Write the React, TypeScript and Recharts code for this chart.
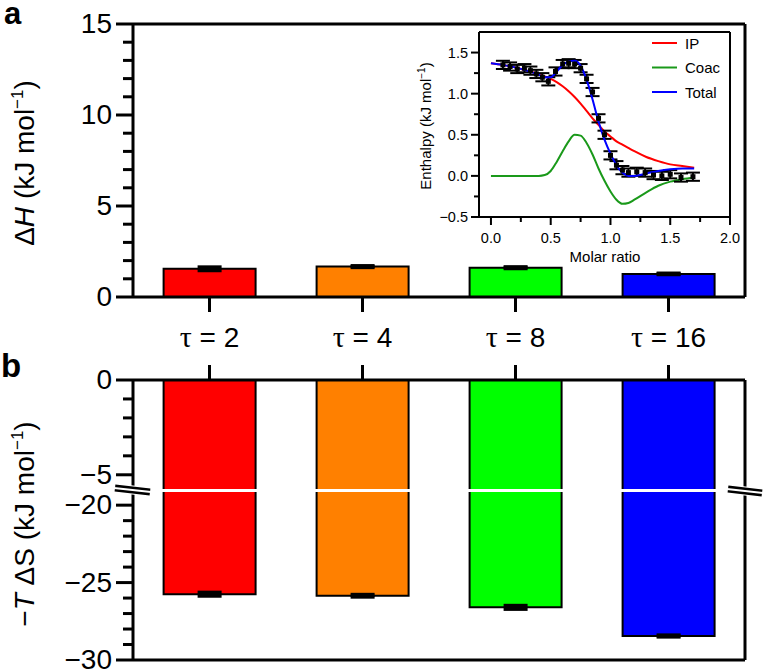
import React from "react";
import { BarChart, ComposedChart, Bar, Cell, XAxis, YAxis, ErrorBar, Line, Scatter } from "recharts";

// main panels
const tauLabels = ["2", "4", "8", "16"];
const enthalpy = [1.55, 1.67, 1.61, 1.27];
const enthalpyErr = [0.08, 0.03, 0.03, 0.02];
const entropy = [-25.75, -25.85, -26.6, -28.45];
const entropyErr = [0.1, 0.06, 0.1, 0.04];
const barColors = ["#ff0000", "#ff8000", "#00ff00", "#0000ff"];

const dhTicks = [0, 1, 2, 3, 4, 5, 6, 7, 8, 9, 10, 11, 12, 13, 14, 15];
const dsUpperTicks = [0, -1, -2, -3, -4, -5];
const dsLowerTicks = [-20, -21, -22, -23, -24, -25, -26, -27, -28, -29, -30];

// inset (ITC fit)
const molarGrid = [0, 0.1, 0.2, 0.3, 0.4, 0.45, 0.5, 0.55, 0.6, 0.65, 0.7, 0.75, 0.8, 0.85, 0.9, 0.95, 1.0, 1.05, 1.1, 1.15, 1.2, 1.3, 1.4, 1.5, 1.6, 1.7];
const ipFit = [1.37, 1.35, 1.32, 1.28, 1.24, 1.21, 1.18, 1.14, 1.09, 1.03, 0.96, 0.88, 0.79, 0.7, 0.62, 0.54, 0.48, 0.42, 0.38, 0.34, 0.3, 0.23, 0.18, 0.14, 0.12, 0.1];
const coacFit = [0, 0, 0, 0, 0, 0.01, 0.06, 0.17, 0.3, 0.42, 0.5, 0.49, 0.4, 0.26, 0.09, -0.06, -0.19, -0.29, -0.34, -0.33, -0.29, -0.2, -0.12, -0.07, -0.04, -0.02];
const totalFit = [1.37, 1.35, 1.32, 1.28, 1.23, 1.2, 1.2, 1.27, 1.35, 1.39, 1.4, 1.34, 1.17, 0.93, 0.66, 0.44, 0.27, 0.13, 0.04, 0.0, 0.0, 0.03, 0.06, 0.08, 0.09, 0.09];

const titrX = [0.1, 0.16, 0.22, 0.28, 0.33, 0.38, 0.43, 0.48, 0.54, 0.6, 0.65, 0.7, 0.75, 0.8, 0.85, 0.9, 0.95, 1.0, 1.05, 1.1, 1.15, 1.22, 1.29, 1.36, 1.43, 1.5, 1.59, 1.69];
const titrY = [1.35, 1.33, 1.3, 1.31, 1.28, 1.24, 1.2, 1.15, 1.27, 1.36, 1.37, 1.36, 1.31, 1.18, 1.02, 0.7, 0.5, 0.25, 0.13, 0.07, 0.04, 0.05, 0.04, 0.01, 0.0, 0.02, -0.02, -0.01];
const titrErr = [0.05, 0.05, 0.05, 0.05, 0.05, 0.05, 0.05, 0.05, 0.05, 0.05, 0.05, 0.05, 0.05, 0.05, 0.05, 0.05, 0.05, 0.05, 0.05, 0.05, 0.05, 0.05, 0.05, 0.05, 0.05, 0.05, 0.05, 0.05];

const insetXTicks = [0, 0.25, 0.5, 0.75, 1, 1.25, 1.5, 1.75, 2];
const insetYTicks = [-0.5, -0.25, 0, 0.25, 0.5, 0.75, 1, 1.25, 1.5];

const INK = "#000";
const FONT = "'Liberation Sans', Arial, Helvetica, sans-serif";

const bars = tauLabels.map((t, i) => ({
  tau: t,
  dH: enthalpy[i],
  dHErr: enthalpyErr[i],
  dS: entropy[i],
  dSErr: entropyErr[i],
  dSRange: [0, entropy[i]],
}));

const fitData = (ys: number[]) => molarGrid.map((x, i) => ({ x, y: ys[i] }));
const titration = titrX.map((x, i) => ({ x, y: titrY[i], err: titrErr[i] }));

const minus = (s: string) => s.replace("-", "\u2212");

const BigYTick = (props: any) => {
  const { x, y, payload } = props;
  const v = payload.value;
  const major = v % 5 === 0;
  return (
    <g>
      <line x1={x - (major ? 17 : 10)} x2={x} y1={y} y2={y} stroke={INK} strokeWidth={3} />
      {major && (
        <text x={x - 21} y={y} dy={9} textAnchor="end" fontSize={28} fontFamily={FONT} fill={INK}>
          {minus(String(v))}
        </text>
      )}
    </g>
  );
};

const TauTick = (props: any) => {
  const { x, y, payload } = props;
  return (
    <g>
      <line x1={x} x2={x} y1={y} y2={y + 15} stroke={INK} strokeWidth={3} />
      <text x={x} y={y + 50} textAnchor="middle" fontSize={28} fontFamily={FONT} fill={INK}>
        <tspan fontFamily="'Liberation Serif', serif" fontSize={30}>τ</tspan> = {payload.value}
      </text>
    </g>
  );
};

const UpTick = (props: any) => {
  const { x, y } = props;
  return <line x1={x} x2={x} y1={y} y2={y - 15} stroke={INK} strokeWidth={3} />;
};

const isHalf = (v: number) => Math.abs(v * 2 - Math.round(v * 2)) < 1e-6;

const InsetYTick = (props: any) => {
  const { x, y, payload } = props;
  const v = payload.value;
  const major = isHalf(v);
  return (
    <g>
      <line x1={x - (major ? 8 : 5)} x2={x} y1={y} y2={y} stroke={INK} strokeWidth={2} />
      {major && (
        <text x={x - 11} y={y} dy={5} textAnchor="end" fontSize={14.5} fontFamily={FONT} fill={INK}>
          {minus(v.toFixed(1))}
        </text>
      )}
    </g>
  );
};

const InsetXTick = (props: any) => {
  const { x, y, payload } = props;
  const v = payload.value;
  const major = isHalf(v);
  return (
    <g>
      <line x1={x} x2={x} y1={y} y2={y + (major ? 8 : 5)} stroke={INK} strokeWidth={2} />
      {major && (
        <text x={x} y={y + 26} textAnchor="middle" fontSize={14.5} fontFamily={FONT} fill={INK}>
          {v.toFixed(1)}
        </text>
      )}
    </g>
  );
};

const axisLine = { stroke: INK, strokeWidth: 3 };
const thinAxis = { stroke: INK, strokeWidth: 2 };

const Square = (p: any) => <rect x={p.cx - 2.5} y={p.cy - 2.5} width={5} height={5} fill={INK} />;

const legendItems = [
  { name: "IP", color: "#ff0000" },
  { name: "Coac", color: "#1a991a" },
  { name: "Total", color: "#0000ff" },
];

function BreakMark({ x1, y1, x2, y2 }: { x1: number; y1: number; x2: number; y2: number }) {
  return (
    <g>
      <line x1={x1} y1={y1} x2={x2} y2={y2} stroke="#fff" strokeWidth={9} />
      <line x1={x1} y1={y1} x2={x2} y2={y2} stroke={INK} strokeWidth={7} />
      <line x1={x1 - 1} y1={y1} x2={x2 + 1} y2={y2} stroke="#fff" strokeWidth={2.2} />
    </g>
  );
}

export default function App() {
  return (
    <div style={{ position: "absolute", left: 0, top: 0, width: 763, height: 670, background: "#fff", fontFamily: FONT, overflow: "hidden" }}>
      {/* a: enthalpy */}
      <div style={{ position: "absolute", left: 0, top: 0 }}>
        <BarChart width={763} height={360} data={bars} margin={{ top: 23, right: 17, bottom: 0, left: 0 }} barCategoryGap="20%">
          <XAxis dataKey="tau" height={63} tickSize={0} tickMargin={0} tickLine={false} axisLine={axisLine} tick={<TauTick />} interval={0} />
          <XAxis xAxisId="frame" dataKey="tau" orientation="top" height={1} tick={false} tickLine={false} axisLine={axisLine} />
          <YAxis width={133} domain={[0, 15]} ticks={dhTicks} interval={0} tickSize={0} tickMargin={0} tickLine={false} axisLine={axisLine} tick={<BigYTick />} />
          <YAxis yAxisId="frame" orientation="right" width={1} domain={[0, 15]} tick={false} tickLine={false} axisLine={axisLine} />
          <Bar dataKey="dH" stroke={INK} strokeWidth={2} isAnimationActive={false}>
            {bars.map((d, i) => (
              <Cell key={d.tau} fill={barColors[i]} />
            ))}
            <ErrorBar dataKey="dHErr" direction="y" width={12} strokeWidth={4} stroke={INK} />
          </Bar>
        </BarChart>
      </div>

      {/* b: -TΔS, upper segment */}
      <div style={{ position: "absolute", left: 0, top: 340 }}>
        <BarChart width={763} height={161} data={bars} margin={{ top: 39, right: 17, bottom: 12, left: 0 }} barCategoryGap="20%">
          <XAxis dataKey="tau" orientation="top" height={1} tickSize={0} tickMargin={0} tickLine={false} axisLine={axisLine} tick={<UpTick />} interval={0} />
          <YAxis width={133} domain={[-5.75, 0]} allowDataOverflow ticks={dsUpperTicks} interval={0} tickSize={0} tickMargin={0} tickLine={false} axisLine={axisLine} tick={<BigYTick />} />
          <YAxis yAxisId="frame" orientation="right" width={1} domain={[-5.75, 0]} tick={false} tickLine={false} axisLine={axisLine} />
          <Bar dataKey="dS" stroke={INK} strokeWidth={2} isAnimationActive={false}>
            {bars.map((d, i) => (
              <Cell key={d.tau} fill={barColors[i]} />
            ))}
          </Bar>
        </BarChart>
      </div>

      {/* b: -TΔS, lower segment */}
      <div style={{ position: "absolute", left: 0, top: 472 }}>
        <BarChart width={763} height={198} data={bars} margin={{ top: 20, right: 17, bottom: 9, left: 0 }} barCategoryGap="20%">
          <XAxis dataKey="tau" height={1} tick={false} tickLine={false} axisLine={axisLine} />
          <YAxis width={133} domain={[-30, -19.15]} allowDataOverflow ticks={dsLowerTicks} interval={0} tickSize={0} tickMargin={0} tickLine={false} axisLine={axisLine} tick={<BigYTick />} />
          <YAxis yAxisId="frame" orientation="right" width={1} domain={[-30, -19.15]} tick={false} tickLine={false} axisLine={axisLine} />
          <Bar dataKey="dSRange" stroke={INK} strokeWidth={2} isAnimationActive={false}>
            {bars.map((d, i) => (
              <Cell key={d.tau} fill={barColors[i]} />
            ))}
            <ErrorBar dataKey="dSErr" direction="y" width={12} strokeWidth={4} stroke={INK} />
          </Bar>
        </BarChart>
      </div>

      {/* inset */}
      <div style={{ position: "absolute", left: 400, top: 20 }}>
        <ComposedChart width={345} height={255} margin={{ top: 11, right: 14, bottom: 0, left: 0 }}>
          <XAxis type="number" dataKey="x" domain={[-0.1, 2]} allowDataOverflow ticks={insetXTicks} interval={0} height={58} tickSize={0} tickMargin={0} tickLine={false} axisLine={thinAxis} tick={<InsetXTick />} />
          <XAxis xAxisId="frame" type="number" orientation="top" domain={[-0.1, 2]} height={1} tick={false} tickLine={false} axisLine={thinAxis} />
          <YAxis type="number" domain={[-0.5, 1.75]} allowDataOverflow ticks={insetYTicks} interval={0} width={79} tickSize={0} tickMargin={0} tickLine={false} axisLine={thinAxis} tick={<InsetYTick />} />
          <YAxis yAxisId="frame" orientation="right" width={1} domain={[-0.5, 1.75]} tick={false} tickLine={false} axisLine={thinAxis} />
          <Line data={fitData(ipFit)} dataKey="y" type="monotone" stroke="#ff0000" strokeWidth={2} dot={false} isAnimationActive={false} />
          <Line data={fitData(coacFit)} dataKey="y" type="monotone" stroke="#1a991a" strokeWidth={2} dot={false} isAnimationActive={false} />
          <Scatter data={titration} dataKey="y" fill={INK} shape={<Square />} isAnimationActive={false}>
            <ErrorBar dataKey="err" direction="y" width={7} strokeWidth={2} stroke={INK} />
          </Scatter>
          <Line data={fitData(totalFit)} dataKey="y" type="monotone" stroke="#0000ff" strokeWidth={2} dot={false} isAnimationActive={false} />
        </ComposedChart>
      </div>

      {/* labels, legend and axis breaks */}
      <svg width={763} height={670} style={{ position: "absolute", left: 0, top: 0, pointerEvents: "none" }}>
        <text x={4} y={24} fontSize={31} fontWeight="bold" fontFamily={FONT} fill={INK}>a</text>
        <text x={1} y={377} fontSize={33} fontWeight="bold" fontFamily={FONT} fill={INK}>b</text>

        <text transform="translate(34,163) rotate(-90)" textAnchor="middle" fontSize={28} fontFamily={FONT} fill={INK}>
          Δ<tspan fontStyle="italic">H</tspan> (kJ mol<tspan fontSize={17} dy={-11}>−1</tspan><tspan dy={11}>)</tspan>
        </text>
        <text transform="translate(34,524) rotate(-90)" textAnchor="middle" fontSize={28} fontFamily={FONT} fill={INK}>
          −<tspan fontStyle="italic">T</tspan> ΔS (kJ mol<tspan fontSize={17} dy={-11}>−1</tspan><tspan dy={11}>)</tspan>
        </text>

        <text transform="translate(431,126) rotate(-90)" textAnchor="middle" fontSize={15} fontFamily={FONT} fill={INK}>
          Enthalpy (kJ mol<tspan fontSize={10} dy={-6}>−1</tspan><tspan dy={6}>)</tspan>
        </text>
        <text x={605} y={262} textAnchor="middle" fontSize={15} fontFamily={FONT} fill={INK}>Molar ratio</text>

        {legendItems.map((it, i) => (
          <g key={it.name}>
            <line x1={652} x2={677} y1={43 + i * 24.5} y2={43 + i * 24.5} stroke={it.color} strokeWidth={2} />
            <text x={685} y={48.5 + i * 24.5} fontSize={15} fontFamily={FONT} fill={INK}>{it.name}</text>
          </g>
        ))}

        <BreakMark x1={115} y1={488} x2={150} y2={492} />
        <BreakMark x1={728} y1={489} x2={762} y2={493} />
      </svg>
    </div>
  );
}
